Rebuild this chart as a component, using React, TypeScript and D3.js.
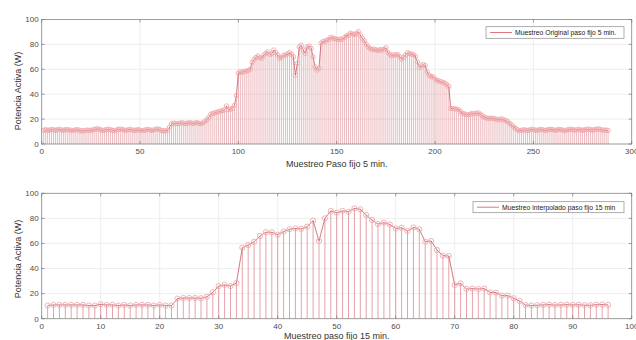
import React from 'react';
import * as d3 from 'd3';

// potencia activa, muestreo original cada 5 min (indices 1..288)
const original5 = [
  11, 11.5, 11, 11.2, 11.6, 11.4, 11, 11.5, 11.8, 11.3, 11, 11.4,
  11.6, 11.2, 11, 10.8, 11.3, 11.5, 11.2, 10.6, 10.4, 10.8, 11.2, 11,
  10.9, 11.3, 11.8, 12.2, 12, 11.4, 10.8, 11.2, 11.6, 11.9, 11.5, 11,
  10.8, 11.2, 11.7, 12, 11.6, 11.2, 11, 11.4, 11.8, 11.3, 10.9, 11.2,
  11.5, 11.1, 10.7, 11, 11.4, 11.8, 11.3, 10.9, 11.3, 11.8, 12.1, 11.5,
  10.8, 10.4, 10.6, 11, 13.5, 16, 16.8, 16.5, 16.2, 16.6, 17, 16.8,
  16.4, 16.7, 17.1, 16.9, 16.5, 16.8, 17.2, 16.6, 16.4, 17, 18.2, 19.5,
  21.5, 23.8, 24.6, 25, 25.4, 26, 26.4, 26.8, 27.4, 30.5, 27.6, 28,
  28.6, 31, 39, 57, 58, 57.6, 58.2, 58.6, 59, 60, 65.5, 68,
  69.5, 70.7, 69.2, 68.9, 71.5, 72.8, 74, 72, 72.5, 75.5, 73.4, 71.5,
  68.8, 69.7, 71.2, 71.5, 72.4, 73.3, 72, 70, 55.4, 64.8, 78, 79.4,
  75.5, 72.8, 78, 78.6, 76.8, 70, 62, 59.4, 60.8, 80.9, 82.2, 82.6,
  83.4, 84, 85.7, 85, 84.6, 84.2, 83.8, 84.3, 84.1, 85.6, 86.8, 87.5,
  89, 88.4, 88, 88.6, 90.2, 87.5, 85, 83, 80.2, 78, 76.8, 75.9,
  76.2, 75.6, 75.2, 75.8, 75.4, 76, 77.3, 73.6, 72, 70.9, 71.6, 71.5,
  71.8, 70.2, 68.2, 69.5, 71.5, 73.3, 72.6, 72.2, 71.8, 70.5, 66, 61.5,
  62.8, 63.8, 63, 58, 55.4, 54.2, 54, 52.2, 51.2, 50.7, 50, 49.5,
  48.9, 47.6, 46.2, 28.6, 28.4, 28.2, 28, 27.5, 26, 24.6, 24.2, 23.6,
  23.4, 24, 24.5, 24.2, 24.6, 25, 24, 22.8, 21.6, 20.9, 20.7, 20.6,
  20.8, 20.4, 20, 19.4, 19.8, 20.2, 19.3, 18.8, 17.9, 16.5, 15.3, 13.6,
  12.6, 11.4, 10.7, 11, 11.4, 11.2, 10.9, 11.3, 11.8, 11.5, 11.2, 11,
  11.4, 11.7, 11.3, 10.9, 11.2, 11.6, 11.8, 11.4, 11, 11.3, 11.7, 11.5,
  11.1, 10.8, 11.2, 11.6, 11.9, 11.5, 11.1, 11.4, 11.8, 11.3, 11, 11.4,
  11.7, 12, 11.6, 11.2, 11.5, 11.8, 12.1, 11.7, 11.3, 11, 11.2, 10.8,
];

// muestreo interpolado cada 15 min (indices 1..96)
const interp15 = [
  10.5, 11, 11, 11, 11, 11, 11, 10.5, 10.5, 11.5, 11, 11,
  10.5, 11, 10.5, 11, 11, 11, 10.5, 11, 10.5, 10.5, 16, 16.5,
  16.5, 16.5, 16.3, 17.5, 21, 26, 27, 26, 28.5, 56.6, 58.8, 61.4,
  66, 69, 68.9, 67, 69.5, 71.3, 72, 71.7, 73.4, 78.2, 62, 80,
  86, 84.5, 86, 85.3, 88, 87.3, 82.7, 78.7, 75.5, 76.6, 75.2, 72,
  72.5, 70, 72.8, 71.3, 61.4, 62, 54.8, 50.3, 50, 26.9, 28.2, 23.7,
  24, 23.7, 24, 21, 20.8, 18.4, 18.4, 16.3, 14.1, 10.9, 10.5, 10.8,
  11, 11.2, 10.9, 11, 11.2, 11, 11.1, 10.8, 10.7, 11.2, 11.3, 11,
];

const yTicks = [0, 20, 40, 60, 80, 100];
const xTicksTop = [0, 50, 100, 150, 200, 250, 300];
const xTicksBottom = [0, 10, 20, 30, 40, 50, 60, 70, 80, 90, 100];

const font = '"Liberation Sans", Arial, sans-serif';

type PanelProps = {
  values: number[];
  xMax: number;
  xTicks: number[];
  top: number;
  bottom: number;
  xLabel: string;
  xLabelY: number;
  yLabelY: number;
  legend: string;
  legendBox: [number, number, number, number];
  r: number;
  stemWidth: number;
};

const Panel = (props: PanelProps) => {
  const left = 41.7, right = 631.7;
  const x = d3.scaleLinear().domain([0, props.xMax]).range([left, right]);
  const y = d3.scaleLinear().domain([0, 100]).range([props.bottom, props.top]);
  const pts = props.values.map((v, i) => ({i: i + 1, v}));
  const line = d3.line<{i: number; v: number}>().x(d => x(d.i)).y(d => y(d.v));
  const [lx, ly, lw, lh] = props.legendBox;

  return (
    <g>
      <rect x={left} y={props.top} width={right - left} height={props.bottom - props.top} fill="#fff" />
      {props.xTicks.map(t => (
        <line key={'gx' + t} x1={x(t)} x2={x(t)} y1={props.top} y2={props.bottom} stroke="#e8e8e8" strokeWidth={0.7} />
      ))}
      {yTicks.map(t => (
        <line key={'gy' + t} x1={left} x2={right} y1={y(t)} y2={y(t)} stroke="#e8e8e8" strokeWidth={0.7} />
      ))}
      {pts.map(d => (
        <line key={'s' + d.i} x1={x(d.i)} x2={x(d.i)} y1={y(0)} y2={y(d.v)} stroke="#cf5a64" strokeWidth={props.stemWidth} strokeOpacity={0.7} />
      ))}
      <path d={line(pts) || ''} fill="none" stroke="#c0404b" strokeWidth={0.7} />
      {pts.map(d => (
        <circle key={'c' + d.i} cx={x(d.i)} cy={y(d.v)} r={props.r} fill="none" stroke="#efa9ad" strokeWidth={0.9} />
      ))}
      <rect x={left} y={props.top} width={right - left} height={props.bottom - props.top} fill="none" stroke="#8c8c8c" strokeWidth={0.8} />
      {props.xTicks.map(t => (
        <g key={'tx' + t}>
          <line x1={x(t)} x2={x(t)} y1={props.bottom} y2={props.bottom - 3} stroke="#777" strokeWidth={0.7} />
          <line x1={x(t)} x2={x(t)} y1={props.top} y2={props.top + 3} stroke="#777" strokeWidth={0.7} />
          <text x={x(t)} y={props.bottom + 10} textAnchor="middle" fontSize={8} fill="#4d4d4d" fontFamily={font}>{t}</text>
        </g>
      ))}
      {yTicks.map(t => (
        <g key={'ty' + t}>
          <line x1={left} x2={left + 3} y1={y(t)} y2={y(t)} stroke="#777" strokeWidth={0.7} />
          <line x1={right} x2={right - 3} y1={y(t)} y2={y(t)} stroke="#777" strokeWidth={0.7} />
          <text x={left - 3} y={y(t) + 2.8} textAnchor="end" fontSize={8} fill="#4d4d4d" fontFamily={font}>{t}</text>
        </g>
      ))}
      <text x={(left + right) / 2} y={props.xLabelY} textAnchor="middle" fontSize={9} fill="#333" fontFamily={font}>{props.xLabel}</text>
      <text transform={`translate(21,${props.yLabelY}) rotate(-90)`} textAnchor="middle" fontSize={9} fill="#333" fontFamily={font}>Potencia Activa (W)</text>
      <rect x={lx} y={ly} width={lw} height={lh} fill="#fff" stroke="#8c8c8c" strokeWidth={0.7} />
      <line x1={lx + 4} x2={lx + 26} y1={ly + lh / 2} y2={ly + lh / 2} stroke="#d2555f" strokeWidth={0.8} />
      <text x={lx + 29} y={ly + lh / 2 + 2.4} fontSize={6.8} fill="#222" fontFamily={font}>{props.legend}</text>
    </g>
  );
};

export default function App() {
  return (
    <svg width={636} height={340} style={{position: 'absolute', left: 0, top: 0, background: '#fff'}}>
      <rect width={636} height={340} fill="#fff" />
      <Panel values={original5} xMax={300} xTicks={xTicksTop} top={19.5} bottom={144}
        xLabel="Muestreo Paso fijo 5 min." xLabelY={167} yLabelY={91}
        legend="Muestreo Original paso fijo 5 min." legendBox={[486, 26.7, 138, 11.6]} r={2.2} stemWidth={0.6} />
      <Panel values={interp15} xMax={100} xTicks={xTicksBottom} top={193.3} bottom={318.7}
        xLabel="Muestreo paso fijo 15 min." xLabelY={339} yLabelY={259}
        legend="Muestreo interpolado paso fijo 15 min" legendBox={[473, 201.7, 151, 11]} r={2.6} stemWidth={0.8} />
    </svg>
  );
}
